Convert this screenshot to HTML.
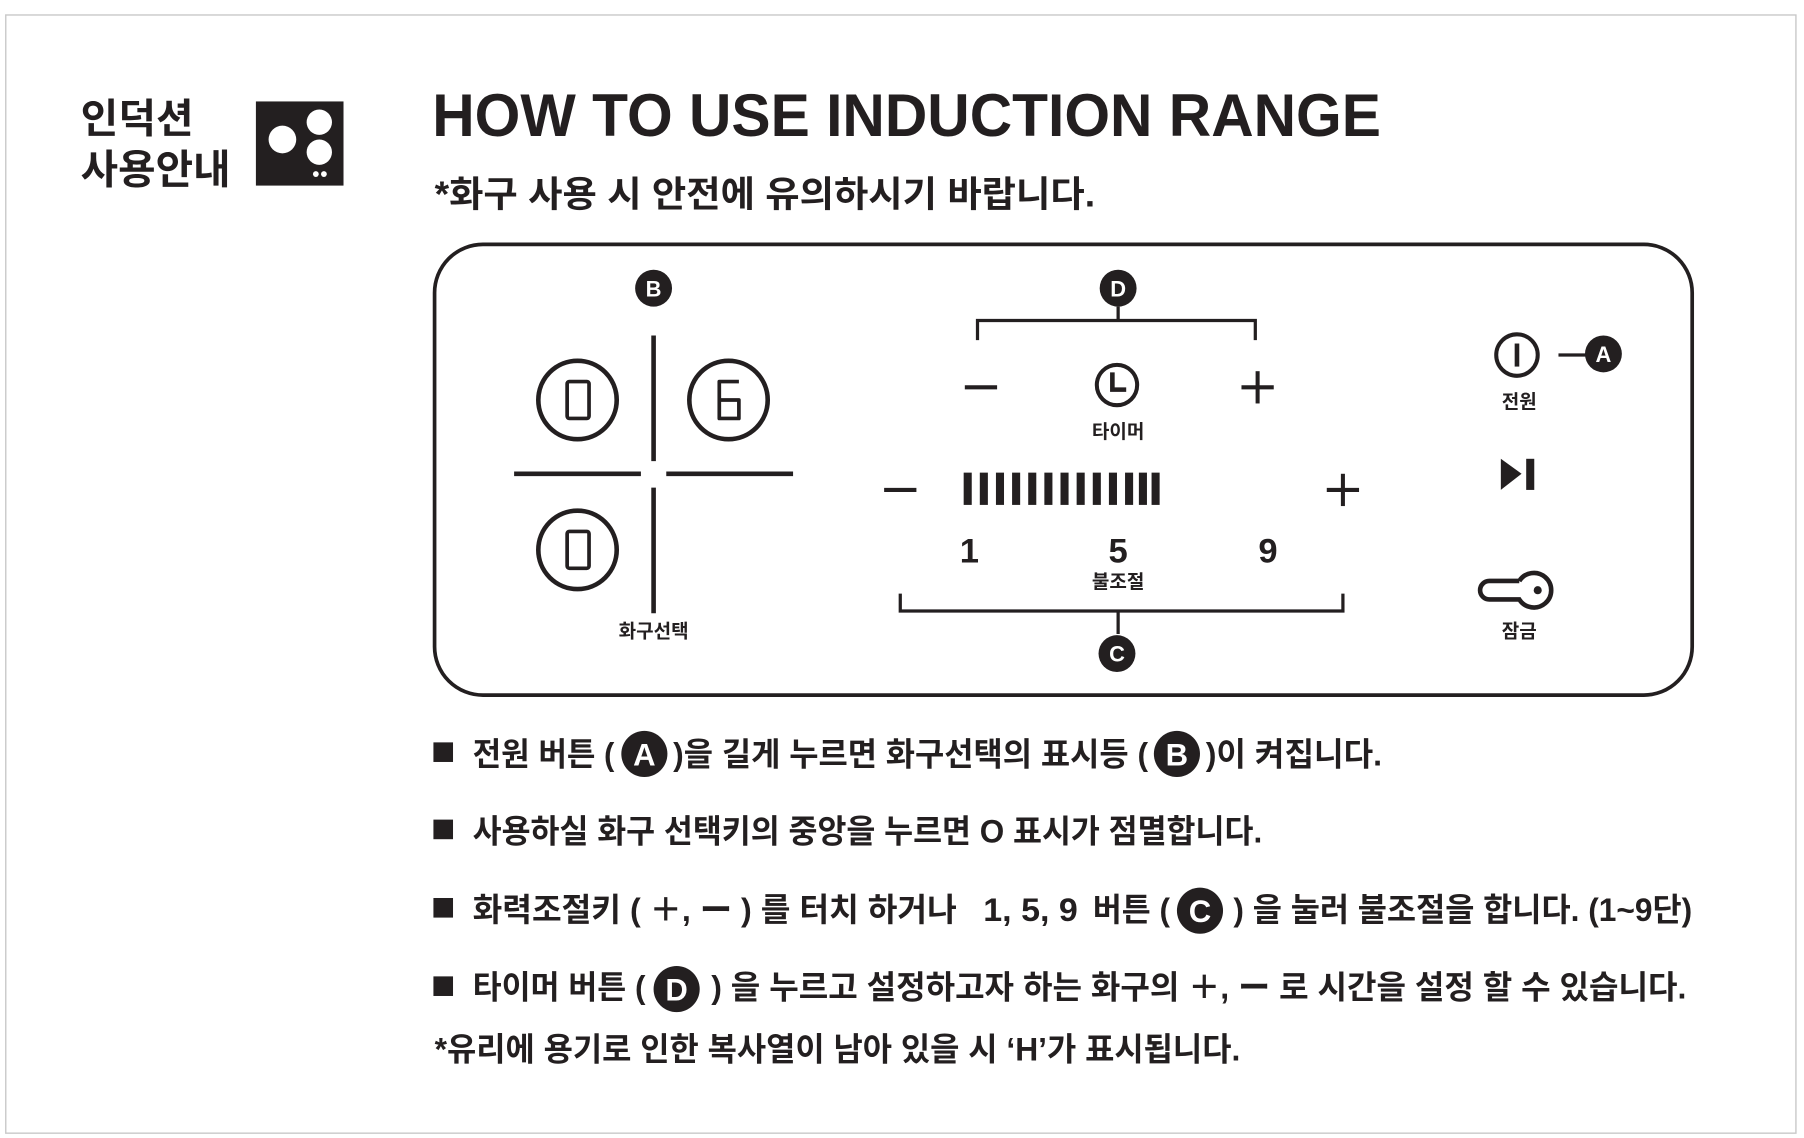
<!DOCTYPE html>
<html><head><meta charset="utf-8"><style>
html,body{margin:0;padding:0;background:#fff;}
svg{display:block;}
text{font-family:"Liberation Sans","Noto Sans CJK KR",sans-serif;font-weight:bold;fill:#231f20;}
.w{fill:#fff;}
</style></head><body>
<svg width="1804" height="1138" viewBox="0 0 1565 987.2" preserveAspectRatio="none" xmlns="http://www.w3.org/2000/svg">
<rect x="5" y="13" width="1553" height="970" fill="none" stroke="#c8c8c8" stroke-width="1.2"/>
<text x="70" y="115" font-size="35" textLength="98" lengthAdjust="spacingAndGlyphs">인덕션</text>
<text x="70" y="159" font-size="35" textLength="130" lengthAdjust="spacingAndGlyphs">사용안내</text>
<rect x="222" y="88" width="76" height="73" fill="#231f20"/>
<circle cx="245" cy="121" r="12" fill="#fff"/>
<circle cx="277" cy="106" r="11" fill="#fff"/>
<circle cx="277" cy="132" r="11" fill="#fff"/>
<circle cx="274" cy="151" r="2.5" fill="#fff"/>
<circle cx="281" cy="151" r="2.5" fill="#fff"/>
<text x="375" y="118" font-size="52" textLength="823" lengthAdjust="spacingAndGlyphs">HOW TO USE INDUCTION RANGE</text>
<text x="377" y="179" font-size="31" textLength="573" lengthAdjust="spacingAndGlyphs">*화구 사용 시 안전에 유의하시기 바랍니다.</text>
<rect x="377" y="212" width="1091" height="391" rx="42" fill="none" stroke="#231f20" stroke-width="3.2"/>
<g stroke="#231f20" fill="none" stroke-width="4">
<line x1="567" y1="291" x2="567" y2="400"/><line x1="567" y1="423" x2="567" y2="532"/>
<line x1="446" y1="411" x2="556" y2="411"/><line x1="578" y1="411" x2="688" y2="411"/>
<circle cx="501" cy="347" r="34"/><circle cx="632" cy="347" r="34"/><circle cx="501" cy="477" r="34"/>
</g>
<g stroke="#231f20" fill="none" stroke-width="3.2" stroke-linejoin="round">
<rect x="492" y="331" width="19" height="32" rx="2"/>
<rect x="492" y="461" width="19" height="32" rx="2"/>
<path d="M641 331 H624 V363 H641 V347 H624"/>
</g>
<text x="567" y="553" font-size="16.5" text-anchor="middle">화구선택</text>
<circle cx="567" cy="250" r="16" fill="#231f20"/><text x="567" y="257" font-size="19" text-anchor="middle" class="w">B</text>
<g stroke="#231f20" fill="none" stroke-width="2.8">
<path d="M848 295 V278 H1089 V295 M970 266 V278"/>
<path d="M781 515 V530 H1165 V515 M970 530 V550"/>
<line x1="1352" y1="308" x2="1377" y2="308"/>
</g>
<circle cx="970" cy="250" r="16" fill="#231f20"/><text x="970" y="257" font-size="19" text-anchor="middle" class="w">D</text>
<circle cx="969" cy="567" r="16" fill="#231f20"/><text x="969" y="574" font-size="19" text-anchor="middle" class="w">C</text>
<g stroke="#231f20" fill="none" stroke-width="3.5">
<line x1="837" y1="336" x2="865" y2="336"/>
<line x1="1077" y1="336" x2="1105" y2="336"/><line x1="1091" y1="322" x2="1091" y2="350"/>
<circle cx="969" cy="334" r="17.5"/><path d="M965 323 V338 H977" stroke-width="4"/>
<line x1="767" y1="425" x2="795" y2="425"/>
<line x1="1151" y1="425" x2="1179" y2="425"/><line x1="1165" y1="411" x2="1165" y2="439"/>
<circle cx="1316" cy="308" r="18"/><line x1="1316" y1="298" x2="1316" y2="318" stroke-width="4"/>
<path d="M1318 504 H1292 a8 8 0 0 0 0 16 H1318 a15 15 0 1 0 0 -16" stroke-width="4"/>
</g>
<circle cx="1334" cy="512" r="3.5" fill="#231f20"/>
<g fill="#231f20">
<rect x="836" y="410" width="7" height="28"/><rect x="850" y="410" width="7" height="28"/><rect x="864" y="410" width="7" height="28"/><rect x="878" y="410" width="7" height="28"/><rect x="892" y="410" width="7" height="28"/><rect x="906" y="410" width="7" height="28"/><rect x="920" y="410" width="7" height="28"/><rect x="934" y="410" width="7" height="28"/><rect x="948" y="410" width="7" height="28"/><rect x="962" y="410" width="7" height="28"/><rect x="976" y="410" width="7" height="28"/><rect x="988" y="410" width="7" height="28"/><rect x="999" y="410" width="7" height="28"/>
<path d="M1302 398 L1320 411 L1302 425 Z"/><rect x="1324" y="398" width="7" height="27"/>
<circle cx="1391" cy="307" r="16"/>
</g>
<text x="1391" y="314" font-size="19" text-anchor="middle" class="w">A</text>
<text x="970" y="380" font-size="16.5" text-anchor="middle">타이머</text>
<text x="841" y="488" font-size="30" text-anchor="middle">1</text>
<text x="970" y="488" font-size="30" text-anchor="middle">5</text>
<text x="1100" y="488" font-size="30" text-anchor="middle">9</text>
<text x="970" y="510" font-size="16.5" text-anchor="middle">불조절</text>
<text x="1318" y="354" font-size="16.5" text-anchor="middle">전원</text>
<text x="1318" y="553" font-size="16.5" text-anchor="middle">잠금</text>
<g fill="#231f20"><rect x="376" y="644" width="17" height="17"/><rect x="376" y="711" width="17" height="17"/><rect x="376" y="779" width="17" height="17"/><rect x="376" y="847" width="17" height="17"/>
<circle cx="559" cy="654" r="20"/><circle cx="1021" cy="654" r="20"/><circle cx="1041" cy="790" r="20"/><circle cx="587" cy="858" r="20"/></g>
<text x="559" y="664" font-size="27" text-anchor="middle" class="w">A</text>
<text x="1021" y="664" font-size="27" text-anchor="middle" class="w">B</text>
<text x="1041" y="800" font-size="27" text-anchor="middle" class="w">C</text>
<text x="587" y="868" font-size="27" text-anchor="middle" class="w">D</text>
<g font-size="28">
<text x="410" y="664" textLength="123" lengthAdjust="spacingAndGlyphs">전원 버튼 (</text>
<text x="584" y="664" textLength="412" lengthAdjust="spacingAndGlyphs">)을 길게 누르면 화구선택의 표시등 (</text>
<text x="1046" y="664" textLength="153" lengthAdjust="spacingAndGlyphs">)이 켜집니다.</text>
<text x="410" y="731" textLength="685" lengthAdjust="spacingAndGlyphs">사용하실 화구 선택키의 중앙을 누르면 O 표시가 점멸합니다.</text>
<text x="410" y="799" textLength="420" lengthAdjust="spacingAndGlyphs">화력조절키 ( ＋, ー ) 를 터치 하거나</text>
<text x="853" y="799" textLength="82" lengthAdjust="spacingAndGlyphs">1, 5, 9</text>
<text x="948" y="799" textLength="67" lengthAdjust="spacingAndGlyphs">버튼 (</text>
<text x="1070" y="799" textLength="398" lengthAdjust="spacingAndGlyphs">) 을 눌러 불조절을 합니다. (1~9단)</text>
<text x="410" y="866" textLength="150" lengthAdjust="spacingAndGlyphs">타이머 버튼 (</text>
<text x="617" y="866" textLength="846" lengthAdjust="spacingAndGlyphs">) 을 누르고 설정하고자 하는 화구의  ＋, ー 로 시간을 설정 할 수 있습니다.</text>
<text x="377" y="920" textLength="699" lengthAdjust="spacingAndGlyphs">*유리에 용기로 인한 복사열이 남아 있을 시 ‘H’가 표시됩니다.</text>
</g>
</svg>
</body></html>
